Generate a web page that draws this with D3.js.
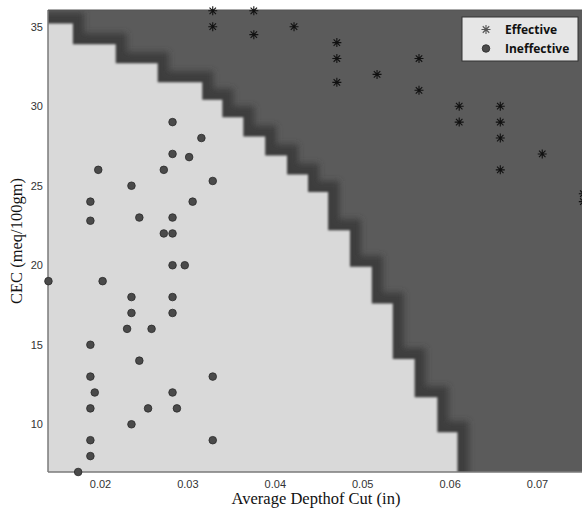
<!DOCTYPE html>
<html>
<head>
<meta charset="utf-8">
<script src="https://cdn.jsdelivr.net/npm/d3@7"></script>
<style>
  body { margin: 0; background: #fff; }
  svg { display: block; }
</style>
</head>
<body>
<div id="chart"></div>
<script>
// Effective points (stars)
const effectiveX = [0.0329, 0.0376, 0.0329, 0.0376, 0.0422, 0.0471, 0.0471, 0.0471, 0.0517, 0.0565, 0.0565,
                    0.0611, 0.0611, 0.0658, 0.0658, 0.0658, 0.0658, 0.0706, 0.0753, 0.0753];
const effectiveY = [36, 36, 35, 34.5, 35, 34, 33, 31.5, 32, 33, 31,
                    30, 29, 30, 29, 28, 26, 27, 24.5, 24];

// Ineffective points (circles)
const ineffectiveX = [0.0283, 0.0316, 0.0283, 0.0302, 0.0198, 0.0273, 0.0329, 0.0236, 0.0189, 0.0306,
                      0.0189, 0.0245, 0.0283, 0.0273, 0.0283, 0.0283, 0.0297, 0.0141, 0.0203, 0.0236,
                      0.0283, 0.0236, 0.0283, 0.0231, 0.0259, 0.0189, 0.0245, 0.0189, 0.0329, 0.0194,
                      0.0283, 0.0189, 0.0255, 0.0288, 0.0236, 0.0189, 0.0329, 0.0189, 0.0175];
const ineffectiveY = [29, 28, 27, 26.8, 26, 26, 25.3, 25, 24, 24,
                      22.8, 23, 23, 22, 22, 20, 20, 19, 19, 18,
                      18, 17, 17, 16, 16, 15, 14, 13, 13, 12,
                      12, 11, 11, 11, 10, 9, 9, 8, 7];

// Decision boundary: each column starts at boundaryX[i], light region lies below boundaryY[i]
const boundaryX = [0.0140, 0.0169, 0.0218, 0.0266, 0.0317, 0.0340, 0.0364, 0.0389, 0.0414,
                   0.0438, 0.0461, 0.0486, 0.0511, 0.0535, 0.0560, 0.0586, 0.0609];
const boundaryY = [35.2, 33.9, 32.7, 31.5, 30.4, 29.3, 28.1, 26.9, 25.7,
                   24.6, 22.2, 19.9, 17.6, 14.1, 11.7, 9.5, 7.0];

const xTicks = [0.02, 0.03, 0.04, 0.05, 0.06, 0.07];
const yTicks = [10, 15, 20, 25, 30, 35];
const legendLabels = ["Effective", "Ineffective"];

const W = 582, H = 512;
const mLeft = 48, mTop = 10, mRight = 582, mBottom = 472;

const x = d3.scaleLinear().domain([0.01405, 0.07515]).range([mLeft, mRight]);
const y = d3.scaleLinear().domain([7, 36.05]).range([mBottom, mTop]);

const svg = d3.select("#chart").append("svg")
    .attr("width", W)
    .attr("height", H);

const defs = svg.append("defs");
defs.append("clipPath").attr("id", "plotClip")
  .append("rect")
    .attr("x", mLeft).attr("y", mTop)
    .attr("width", mRight - mLeft).attr("height", mBottom - mTop);
defs.append("filter").attr("id", "bandBlur")
    .attr("x", "-10%").attr("y", "-10%").attr("width", "120%").attr("height", "120%")
  .append("feGaussianBlur").attr("stdDeviation", 3);
defs.append("filter").attr("id", "edgeBlur")
    .attr("x", "-5%").attr("y", "-5%").attr("width", "110%").attr("height", "110%")
  .append("feGaussianBlur").attr("stdDeviation", 0.8);

// staircase points
const xMin = x.domain()[0], yMin = y.domain()[0];
const stair = [];
boundaryX.forEach((bx, i) => {
    stair.push([bx, boundaryY[i]]);
    if (i < boundaryX.length - 1) stair.push([boundaryX[i + 1], boundaryY[i]]);
});
const last = stair[stair.length - 1];
stair.push([last[0], yMin - 1]);

const plot = svg.append("g").attr("clip-path", "url(#plotClip)");

// dark (effective) region
plot.append("rect")
    .attr("x", mLeft).attr("y", mTop)
    .attr("width", mRight - mLeft).attr("height", mBottom - mTop)
    .attr("fill", "#5b5b5b");

const line = d3.line().x(d => x(d[0])).y(d => y(d[1]));

// darker transition band
plot.append("path")
    .attr("d", line([[xMin - 0.002, stair[0][1]], ...stair]))
    .attr("fill", "none")
    .attr("stroke", "#3c3c3c")
    .attr("stroke-width", 22)
    .attr("filter", "url(#bandBlur)");

// light (ineffective) region
const poly = [[xMin - 0.002, yMin - 1], [xMin - 0.002, stair[0][1]], ...stair];
plot.append("path")
    .attr("d", line(poly) + "Z")
    .attr("fill", "#d9d9d9")
    .attr("filter", "url(#edgeBlur)");

// axes lines
svg.append("line")
    .attr("x1", mLeft).attr("x2", mLeft).attr("y1", mTop).attr("y2", mBottom)
    .attr("stroke", "#7a7a7a").attr("stroke-width", 1.5);
svg.append("line")
    .attr("x1", mLeft).attr("x2", mRight).attr("y1", mBottom).attr("y2", mBottom)
    .attr("stroke", "#7a7a7a").attr("stroke-width", 1.5);
svg.append("line")
    .attr("x1", mLeft).attr("x2", mRight).attr("y1", mTop).attr("y2", mTop)
    .attr("stroke", "#555").attr("stroke-width", 1);

// tick labels
const xAxis = d3.axisBottom(x).tickValues(xTicks).tickSize(0).tickPadding(8)
    .tickFormat(d3.format(".2f"));
const gx = svg.append("g").attr("transform", `translate(0,${mBottom})`).call(xAxis);
gx.select(".domain").remove();
gx.selectAll("text")
    .attr("font-family", "Liberation Sans, Arial, sans-serif")
    .attr("font-size", 11).attr("fill", "#333");

const yAxis = d3.axisLeft(y).tickValues(yTicks).tickSize(0).tickPadding(5);
const gy = svg.append("g").attr("transform", `translate(${mLeft},0)`).call(yAxis);
gy.select(".domain").remove();
gy.selectAll("text")
    .attr("font-family", "Liberation Sans, Arial, sans-serif")
    .attr("font-size", 11).attr("fill", "#333");

// axis titles
svg.append("text")
    .attr("x", 316).attr("y", 504)
    .attr("text-anchor", "middle")
    .attr("font-family", "Liberation Serif, Times New Roman, serif")
    .attr("font-size", 16.5).attr("fill", "#111")
    .text("Average Depthof Cut (in)");
svg.append("text")
    .attr("transform", `translate(22,${(mTop + mBottom) / 2}) rotate(-90)`)
    .attr("text-anchor", "middle")
    .attr("font-family", "Liberation Serif, Times New Roman, serif")
    .attr("font-size", 16.5).attr("fill", "#111")
    .text("CEC (meq/100gm)");

// star marker path (plus + cross)
function starPath(r) {
    const k = r * 0.72;
    return `M${-r},0L${r},0M0,${-r}L0,${r}M${-k},${-k}L${k},${k}M${-k},${k}L${k},${-k}`;
}

// circles
svg.append("g").selectAll("circle")
    .data(ineffectiveX.map((d, i) => [d, ineffectiveY[i]]))
    .join("circle")
    .attr("cx", d => x(d[0]))
    .attr("cy", d => y(d[1]))
    .attr("r", 3.8)
    .attr("fill", "#4a4a4a")
    .attr("stroke", "#2a2a2a")
    .attr("stroke-width", 0.8);

// stars
svg.append("g").selectAll("path")
    .data(effectiveX.map((d, i) => [d, effectiveY[i]]))
    .join("path")
    .attr("transform", d => `translate(${x(d[0])},${y(d[1])})`)
    .attr("d", starPath(4.5))
    .attr("fill", "none")
    .attr("stroke", "#111")
    .attr("stroke-width", 1.1);

// legend
const lg = svg.append("g").attr("transform", "translate(462,17)");
lg.append("rect")
    .attr("width", 116).attr("height", 44)
    .attr("fill", "#e6e6e6")
    .attr("stroke", "#333").attr("stroke-width", 1);
lg.append("path")
    .attr("transform", "translate(24,12.5)")
    .attr("d", starPath(4.5))
    .attr("fill", "none").attr("stroke", "#555").attr("stroke-width", 1.1);
lg.append("circle")
    .attr("cx", 24).attr("cy", 31.5).attr("r", 3.8)
    .attr("fill", "#4a4a4a").attr("stroke", "#2a2a2a").attr("stroke-width", 0.8);
lg.selectAll("text.lbl")
    .data(legendLabels)
    .join("text")
    .attr("class", "lbl")
    .attr("x", 43)
    .attr("y", (d, i) => 17 + i * 19)
    .attr("font-family", "Open Sans, DejaVu Sans, sans-serif")
    .attr("font-weight", "bold")
    .attr("font-size", 12)
    .attr("fill", "#111")
    .text(d => d);
</script>
</body>
</html>
